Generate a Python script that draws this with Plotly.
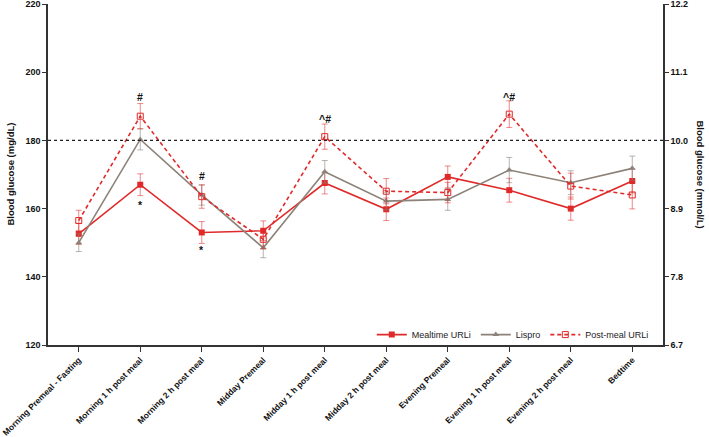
import plotly.graph_objects as go

categories = ["Morning Premeal - Fasting", "Morning 1 h post meal", "Morning 2 h post meal",
              "Midday Premeal", "Midday 1 h post meal", "Midday 2 h post meal",
              "Evening Premeal", "Evening 1 h post meal", "Evening 2 h post meal", "Bedtime"]

mealtime = [152.6, 167.0, 153.0, 153.5, 167.5, 159.8, 169.3, 165.4, 160.0, 168.1]
mealtime_err = [3.1, 3.2, 3.2, 2.9, 3.2, 3.3, 3.2, 3.5, 3.4, 3.5]
lispro = [150.0, 180.3, 164.0, 148.5, 170.8, 162.2, 162.7, 171.3, 167.6, 171.8]
lispro_err = [2.6, 3.1, 3.0, 2.9, 3.3, 2.6, 3.2, 3.7, 3.5, 3.6]
postmeal = [156.5, 187.1, 163.5, 151.0, 181.1, 165.1, 164.7, 187.7, 166.6, 164.0]
postmeal_err = [3.0, 3.7, 3.4, 2.8, 3.7, 3.7, 3.0, 3.9, 3.8, 4.1]

left_ticks = [120, 140, 160, 180, 200, 220]
right_tick_labels = ["6.7", "7.8", "8.9", "10.0", "11.1", "12.2"]
threshold = 180

annot_text = ["#", "*", "#", "*", "^#", "^#"]
annot_cat = [1, 1, 2, 2, 4, 7]
annot_y = [192.7, 161.0, 169.6, 147.9, 186.3, 192.7]

RED = "#e02a2a"
RED_ERR = "rgba(224,42,42,0.55)"
GRAY = "#8c8279"
GRAY_ERR = "rgba(140,130,121,0.6)"
FONT = "Liberation Sans, Arial, sans-serif"

xs = list(range(len(categories)))
fig = go.Figure()

fig.add_trace(go.Scatter(
    x=xs, y=mealtime, name="Mealtime URLi", mode="lines+markers",
    line=dict(color=RED, width=1.6),
    marker=dict(symbol="square", size=6, color=RED),
    error_y=dict(type="data", array=mealtime_err, color=RED_ERR, thickness=1, width=3),
))
fig.add_trace(go.Scatter(
    x=xs, y=lispro, name="Lispro", mode="lines+markers",
    line=dict(color=GRAY, width=1.6),
    marker=dict(symbol="triangle-up", size=6, color=GRAY),
    error_y=dict(type="data", array=lispro_err, color=GRAY_ERR, thickness=1, width=3),
))
fig.add_trace(go.Scatter(
    x=xs, y=postmeal, name="Post-meal URLi", mode="lines+markers",
    line=dict(color=RED, width=1.6, dash="4px,3px"),
    marker=dict(symbol="square-open", size=6, color=RED, line=dict(width=1)),
    error_y=dict(type="data", array=postmeal_err, color=RED_ERR, thickness=1, width=3),
))

fig.add_shape(type="line", xref="paper", yref="y", x0=0, x1=1, y0=threshold, y1=threshold,
              line=dict(color="#222222", width=1.4, dash="dot"))

for t, c, yv in zip(annot_text, annot_cat, annot_y):
    fig.add_annotation(x=c, y=yv, text="<b>%s</b>" % t, showarrow=False,
                       font=dict(size=10.5, color="#111111", family=FONT))

fig.add_annotation(xref="paper", yref="paper", x=0, y=0.5, xshift=-38, textangle=-90,
                   xanchor="center", yanchor="middle",
                   text="<b>Blood glucose (mg/dL)</b>", showarrow=False,
                   font=dict(size=9.5, family=FONT, color="#111111"))
fig.add_annotation(xref="paper", yref="paper", x=1, y=0.5, xshift=37, textangle=90,
                   xanchor="center", yanchor="middle",
                   text="<b>Blood glucose (mmol/L)</b>", showarrow=False,
                   font=dict(size=9.5, family=FONT, color="#111111"))

fig.update_layout(
    width=709, height=437,
    margin=dict(l=48, r=46, t=4, b=92),
    plot_bgcolor="white", paper_bgcolor="white",
    font=dict(family=FONT, size=9, color="#111111"),
    showlegend=True,
    legend=dict(orientation="h", x=0.985, xanchor="right", y=-0.012, yanchor="bottom",
                font=dict(size=9, color="#222222"), bgcolor="rgba(0,0,0,0)",
                itemwidth=30, traceorder="normal"),
    xaxis=dict(
        range=[-0.5, 9.5], tickmode="array", tickvals=xs,
        ticktext=["<b>%s</b>" % c for c in categories], tickangle=-45,
        showline=True, linecolor="#333333", linewidth=1.5, ticks="outside",
        ticklen=5, tickwidth=1.2, tickcolor="#333333", showgrid=False, zeroline=False,
        tickfont=dict(size=8.5, family=FONT, color="#111111"),
        automargin=False, ticklabeloverflow="allow",
    ),
    yaxis=dict(
        range=[120, 220], tickmode="array", tickvals=left_ticks,
        ticktext=["<b>%d</b>" % v for v in left_ticks],
        showline=True, linecolor="#333333", linewidth=1.5, ticks="outside",
        ticklen=4, tickwidth=1.2, tickcolor="#333333", showgrid=False, zeroline=False,
        tickfont=dict(size=9, family=FONT, color="#111111"),
        automargin=False, ticklabeloverflow="allow",
    ),
    yaxis2=dict(
        range=[120, 220], overlaying="y", side="right", tickmode="array",
        tickvals=left_ticks, ticktext=["<b>%s</b>" % s for s in right_tick_labels],
        showline=True, linecolor="#333333", linewidth=1.5, ticks="outside",
        ticklen=4, tickwidth=1.2, tickcolor="#333333", showgrid=False, zeroline=False,
        tickfont=dict(size=9, family=FONT, color="#111111"),
        automargin=False, ticklabeloverflow="allow",
    ),
)
fig.add_trace(go.Scatter(x=[None], y=[None], yaxis="y2", showlegend=False, hoverinfo="skip"))

fig.write_html("out.html", config={"displayModeBar": False},
               post_script="document.body.style.margin='0';")
